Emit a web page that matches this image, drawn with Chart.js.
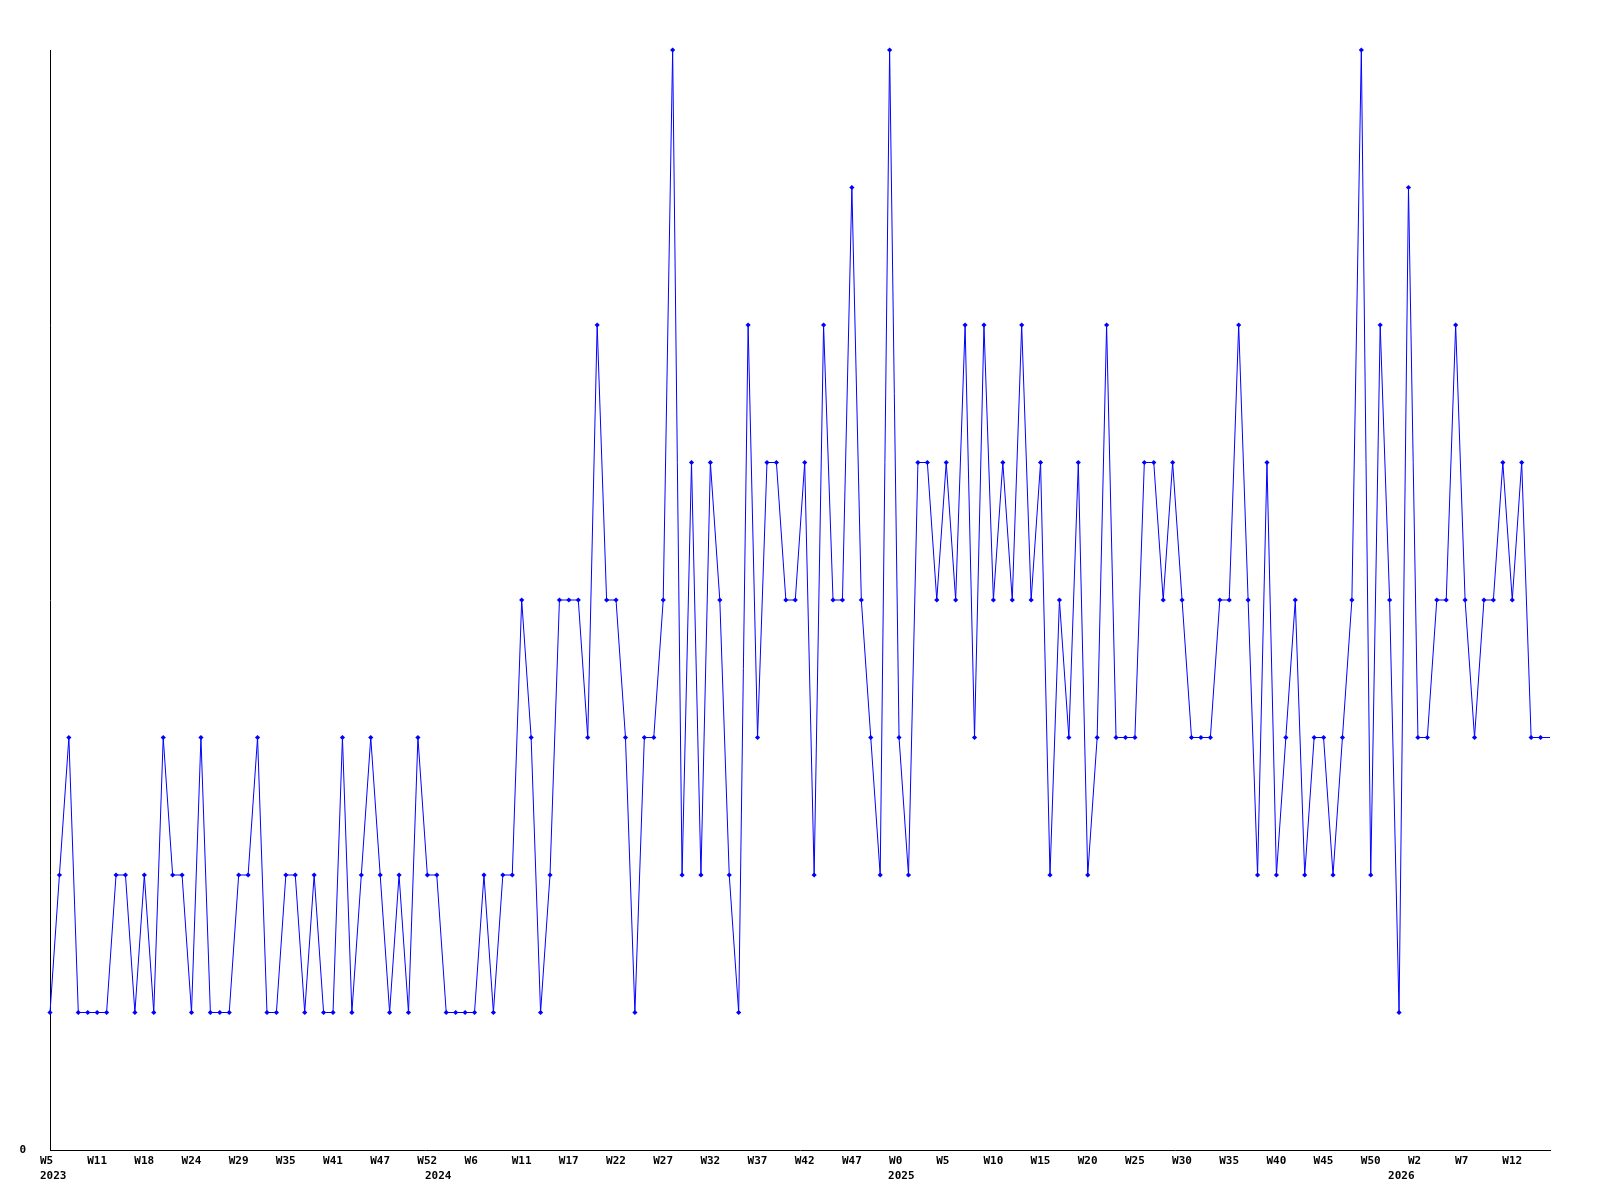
<!DOCTYPE html>
<html>
<head>
<meta charset="utf-8">
<script src="https://cdn.jsdelivr.net/npm/chart.js@4.4.1/dist/chart.umd.min.js"></script>
<style>
html,body{margin:0;padding:0;background:#ffffff;}
#wrap{width:1600px;height:1200px;position:relative;}
</style>
</head>
<body>
<div id="wrap"><canvas id="c" width="1600" height="1200"></canvas></div>
<script>
// ---- data ----
const values = [
  1,2,3,1,1,1,1,2,2,1,
  2,1,3,2,2,1,3,1,1,1,
  2,2,3,1,1,2,2,1,2,1,
  1,3,1,2,3,2,1,2,1,3,
  2,2,1,1,1,1,2,1,2,2,
  4,3,1,2,4,4,4,3,6,4,
  4,3,1,3,3,4,8,2,5,2,
  5,4,2,1,6,3,5,5,4,4,
  5,2,6,4,4,7,4,3,2,8,
  3,2,5,5,4,5,4,6,3,6,
  4,5,4,6,4,5,2,4,3,5,
  2,3,6,3,3,3,5,5,4,5,
  4,3,3,3,4,4,6,4,2,5,
  2,3,4,2,3,3,2,3,4,8,
  2,6,4,1,7,3,3,4,4,6,
  4,3,4,4,5,4,5,3,3,3
];
const weekTickLabels = ['W5','W11','W18','W24','W29','W35','W41','W47','W52','W6','W11',
  'W17','W22','W27','W32','W37','W42','W47','W0','W5','W10','W15','W20','W25','W30',
  'W35','W40','W45','W50','W2','W7','W12'];
const weekTickEvery = 5;
const yearTickLabels = ['2023','2024','2025','2026'];
const yearTickAt = [0, 40.8, 89.9, 142.9];
const yTickValues = [0];
const yMax = 8;

// ---- chart ----
const tickFont = { family: '"DejaVu Sans Mono", "Liberation Mono", monospace', size: 11, weight: 'bold' };
const lastIdx = values.length - 1;
const points = values.map((v, i) => ({ x: i, y: v }));

new Chart(document.getElementById('c'), {
  type: 'line',
  data: {
    datasets: [{
      data: points,
      xAxisID: 'x',
      yAxisID: 'y',
      borderColor: '#0000ff',
      backgroundColor: '#0000ff',
      borderWidth: 1,
      tension: 0,
      pointStyle: 'rectRot',
      pointRadius: ctx => (ctx.dataIndex === lastIdx ? 0 : 2.6),
      pointBorderWidth: 0,
      pointBackgroundColor: '#0000ff',
      pointHoverRadius: 0,
      clip: false
    }]
  },
  options: {
    responsive: false,
    animation: false,
    devicePixelRatio: 1,
    events: [],
    layout: { padding: { top: 50, right: 50, bottom: 15, left: 0 } },
    plugins: { legend: { display: false }, tooltip: { enabled: false } },
    scales: {
      x: {
        type: 'linear',
        position: 'bottom',
        weight: 0,
        min: 0,
        max: lastIdx,
        bounds: 'data',
        grid: { display: false, drawTicks: false },
        border: { display: true, color: '#000000', width: 1 },
        ticks: {
          autoSkip: false, maxRotation: 0, minRotation: 0,
          align: 'start', labelOffset: -10, padding: 5,
          color: '#000000', font: tickFont,
          callback: (v, i) => weekTickLabels[i]
        },
        afterBuildTicks: s => { s.ticks = weekTickLabels.map((_, k) => ({ value: k * weekTickEvery })); },
        afterFit: s => { s.height = 15; }
      },
      x2: {
        type: 'linear',
        position: 'bottom',
        weight: 1,
        min: 0,
        max: lastIdx,
        bounds: 'data',
        grid: { display: false, drawTicks: false },
        border: { display: false },
        ticks: {
          autoSkip: false, maxRotation: 0, minRotation: 0,
          align: 'start', labelOffset: -10, padding: 5,
          color: '#000000', font: tickFont,
          callback: (v, i) => yearTickLabels[i]
        },
        afterBuildTicks: s => { s.ticks = yearTickAt.map(v => ({ value: v })); },
        afterFit: s => { s.height = 20; }
      },
      y: {
        type: 'linear',
        position: 'left',
        min: 0,
        max: yMax,
        bounds: 'data',
        grid: { display: false, drawTicks: false },
        border: { display: true, color: '#000000', width: 1 },
        ticks: {
          padding: 24, color: '#000000', font: tickFont,
          callback: v => String(v)
        },
        afterBuildTicks: s => { s.ticks = yTickValues.map(v => ({ value: v })); },
        afterFit: s => { s.width = 50; }
      }
    }
  }
});
</script>
</body>
</html>
